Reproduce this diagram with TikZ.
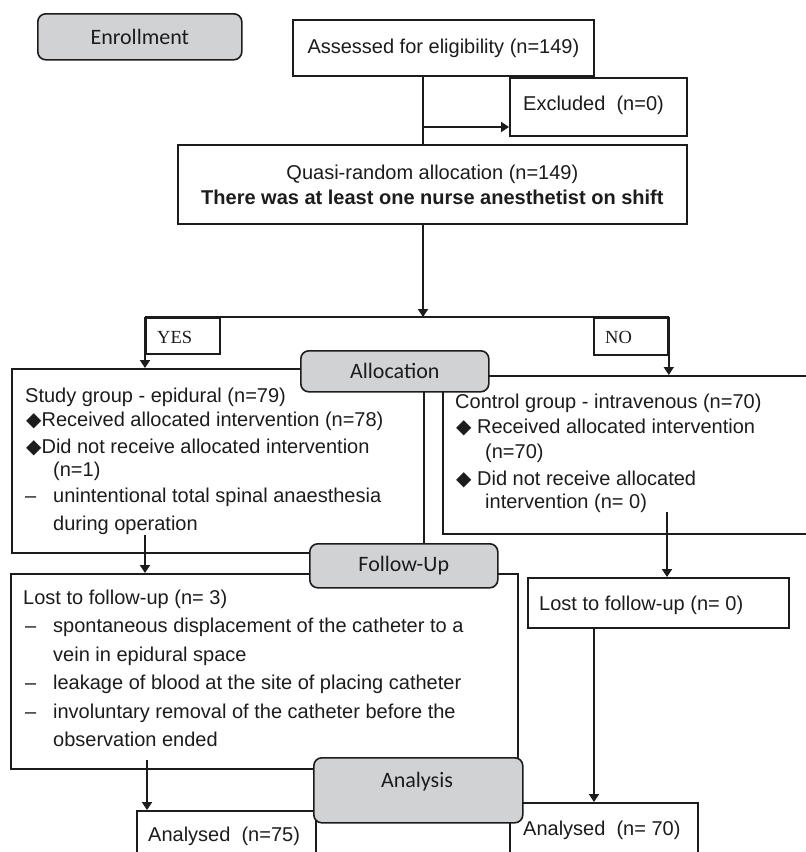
\documentclass[tikz,border=0pt]{standalone}
\usepackage{fontspec}
\setmainfont{Liberation Sans}
\newfontfamily\labfont{Carlito}
\newfontfamily\serfont{Liberation Serif}
\newfontfamily\symfont{DejaVu Sans}
\usetikzlibrary{arrows.meta,calc}
\definecolor{boxgray}{RGB}{209,210,212}
\definecolor{ink}{RGB}{28,28,28}
\tikzset{
  box/.style={draw=ink, line width=1.8pt, fill=white, rectangle, inner sep=0pt, anchor=north west,
              font=\fontsize{20}{25}\selectfont, text=ink},
  gbox/.style={draw=ink, line width=1.6pt, fill=boxgray, rounded corners=8pt, inner sep=0pt,
               anchor=north west, font=\labfont\fontsize{22}{26}\selectfont, text=ink},
  txt/.style={anchor=base west, inner sep=0pt, font=\fontsize{20}{25}\selectfont, text=ink},
  yn/.style={anchor=base west, inner sep=0pt, font=\serfont\fontsize{18.5}{22}\selectfont, text=ink},
  conn/.style={draw=ink, line width=1.8pt},
  arr/.style={conn, -{Triangle[length=8pt,width=10pt]}}
}
\newcommand{\dmd}{{\symfont ◆}}
\newcommand{\dsh}{\makebox[28pt][l]{–}}
\begin{document}
\begin{tikzpicture}[x=1pt,y=-1pt]
\useasboundingbox (0,0) rectangle (806,852);
\clip (0,0) rectangle (806,852);

% enrollment stage
\node[gbox, minimum width=204pt, minimum height=46pt] (enroll) at (37,13) {Enrollment};
\node[box, minimum width=301pt, minimum height=56pt] (assessed) at (292,19) {Assessed for eligibility (n=149)};
\node[box, minimum width=177pt, minimum height=58pt] (excluded) at (509,77) {};
\node[txt] (excl-t) at (523,110) {Excluded\ \ (n=0)};
\node[box, minimum width=509pt, minimum height=79pt, align=center] (quasi) at (177,144)
  {Quasi-random allocation (n=149)\\\textbf{There was at least one nurse anesthetist on shift}};

\coordinate (spine) at (423,0);
\coordinate (exy) at (0,127);
\draw[conn] (assessed.south -| spine) -- (quasi.north -| spine);
\draw[arr] (spine |- exy) -- (excluded.west |- exy);

% allocation split
\node[box, minimum width=74pt, minimum height=36pt] (yes) at (145,317) {};
\node[yn] (yes-t) at (157,343) {YES};
\node[box, minimum width=74pt, minimum height=37pt] (no) at (593,317) {};
\node[yn] (no-t) at (605,343) {NO};
\draw[arr] (quasi.south -| spine) -- (spine |- yes.north);
\draw[conn] (yes.north west) -- (no.north east);

\node[box, minimum width=412pt, minimum height=184pt] (study) at (11,368) {};
\node[box, minimum width=380pt, minimum height=158pt] (control) at (442,375) {};
\draw[arr] (yes.north west) -- (yes.north west |- study.north);
\draw[arr] (no.north east) -- (no.north east |- control.north);

\node[gbox, minimum width=188pt, minimum height=41pt] (alloc) at (300,350) {Allocation};

\node[txt] (s1) at (25,402) {Study group - epidural (n=79)};
\node[txt] (s2) at (26,426) {\dmd Received allocated intervention (n=78)};
\node[txt] (s3) at (26,453) {\dmd Did not receive allocated intervention};
\node[txt] (s4) at (53,476) {(n=1)};
\node[txt] (s5) at (25,502) {\dsh unintentional total spinal anaesthesia};
\node[txt] (s6) at (53,530) {during operation};

\node[txt] (c1) at (455,408) {Control group - intravenous (n=70)};
\node[txt] (c2) at (456,433) {\dmd\ Received allocated intervention};
\node[txt] (c3) at (485,458) {(n=70)};
\node[txt] (c4) at (456,485) {\dmd\ Did not receive allocated};
\node[txt] (c5) at (485,508) {intervention (n= 0)};

% follow-up stage
\node[box, minimum width=507pt, minimum height=195pt] (lost3) at (10,573) {};
\node[box, minimum width=261pt, minimum height=50pt] (lost0) at (527,577) {};
\node[gbox, minimum width=188pt, minimum height=44pt] (follow) at (309,543) {Follow-Up};

\coordinate (sfrom) at (145,535);
\coordinate (cfrom) at (667,512);
\draw[arr] (sfrom) -- (sfrom |- lost3.north);
\draw[arr] (cfrom) -- (cfrom |- lost0.north);

\node[txt] (f1) at (23,604) {Lost to follow-up (n= 3)};
\node[txt] (f2) at (25,632) {\dsh spontaneous displacement of the catheter to a};
\node[txt] (f3) at (53,661) {vein in epidural space};
\node[txt] (f4) at (25,689) {\dsh leakage of blood at the site of placing catheter};
\node[txt] (f5) at (25,718) {\dsh involuntary removal of the catheter before the};
\node[txt] (f6) at (53,746) {observation ended};
\node[txt] (g1) at (539,610) {Lost to follow-up (n= 0)};

% analysis stage
\node[box, minimum width=179pt, minimum height=60pt] (an75) at (136,810) {};
\node[box, minimum width=188pt, minimum height=70pt] (an70) at (509,802) {};
\coordinate (lfrom) at (147,760);
\coordinate (rx) at (594,0);
\draw[arr] (lfrom) -- (lfrom |- an75.north);
\draw[arr] (lost0.south -| rx) -- (rx |- an70.north);
\node[txt] (a75) at (148,841) {Analysed\ \ (n=75)};
\node[txt] (a70) at (523,835) {Analysed\ \ (n= 70)};

\node[gbox, minimum width=209pt, minimum height=65pt] (analysis) at (313,757) {};
\node[anchor=center, inner sep=0pt, font=\labfont\fontsize{22}{26}\selectfont, text=ink] (analysis-t) at (417,782) {Analysis};
\end{tikzpicture}
\end{document}
